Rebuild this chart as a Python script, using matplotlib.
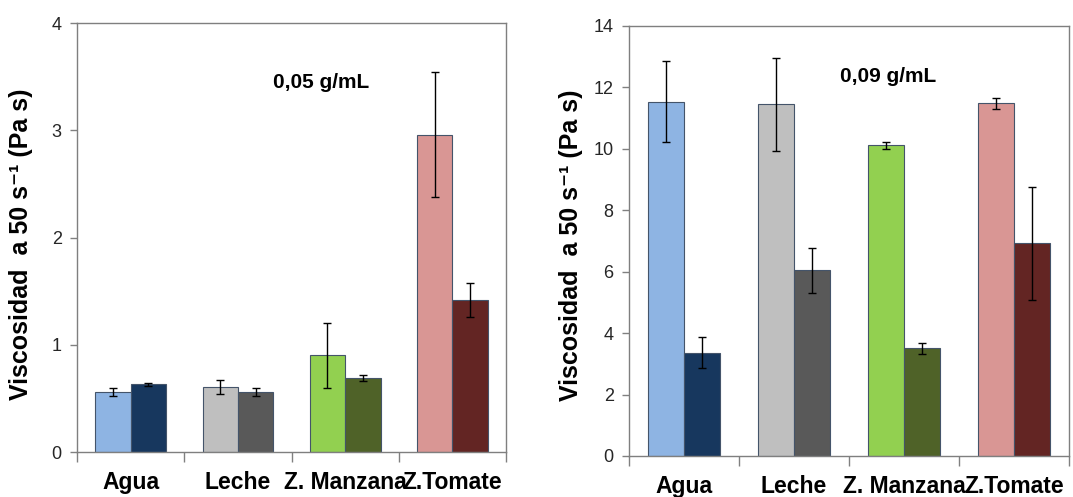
import matplotlib
matplotlib.use("Agg")
import matplotlib.pyplot as plt
import numpy as np

categories = ["Agua", "Leche", "Z. Manzana", "Z.Tomate"]

# panel 1: 0,05 g/mL
p1_light = [0.56, 0.61, 0.90, 2.96]
p1_light_err = [0.04, 0.065, 0.30, 0.58]
p1_dark = [0.63, 0.56, 0.69, 1.42]
p1_dark_err = [0.01, 0.04, 0.025, 0.16]

# panel 2: 0,09 g/mL
p2_light = [11.54, 11.45, 10.12, 11.49]
p2_light_err = [1.31, 1.52, 0.11, 0.18]
p2_dark = [3.36, 6.05, 3.50, 6.92]
p2_dark_err = [0.50, 0.73, 0.19, 1.83]

light_colors = ["#8EB4E3", "#BFBFBF", "#92D050", "#D99694"]
dark_colors = ["#17375E", "#595959", "#4F6228", "#632523"]

plt.rcParams['font.family'] = ['Liberation Sans', 'DejaVu Sans']

fig = plt.figure(figsize=(10.73, 4.97), dpi=100)
ax1 = fig.add_axes([0.0718, 0.0905, 0.3998, 0.8632])
ax2 = fig.add_axes([0.5862, 0.0825, 0.4100, 0.8652])

def draw(ax, light, lerr, dark, derr, ymax, step, note, note_xy):
    x = np.arange(len(categories))
    w = 0.33
    ax.bar(x - w/2, light, w, color=light_colors, edgecolor="#44546A", linewidth=0.8, zorder=2)
    ax.bar(x + w/2, dark, w, color=dark_colors, edgecolor="#44546A", linewidth=0.8, zorder=2)
    ax.errorbar(x - w/2, light, yerr=lerr, fmt="none", ecolor="black", elinewidth=1, capsize=3, capthick=1, zorder=3)
    ax.errorbar(x + w/2, dark, yerr=derr, fmt="none", ecolor="black", elinewidth=1, capsize=3, capthick=1, zorder=3)
    ax.set_xlim(-0.5, len(categories) - 0.5)
    ax.set_ylim(0, ymax)
    ticks = np.arange(0, ymax + 0.001, step)
    ax.set_yticks(ticks)
    ax.set_yticklabels([str(int(v)) for v in ticks], fontsize=13, color="#262626")
    ax.set_xticks(x)
    ax.set_xticklabels(categories, fontsize=16.5, fontweight="bold")
    ax.set_xticks(np.arange(-0.5, len(categories), 1), minor=True)
    ax.tick_params(axis="x", which="major", length=0, pad=14)
    ax.tick_params(axis="x", which="minor", length=7, color="#808080", width=1)
    ax.tick_params(axis="y", length=5, color="#808080", width=1, pad=6)
    for s in ax.spines.values():
        s.set_color("#7F7F7F")
        s.set_linewidth(1)
    ax.set_ylabel("Viscosidad  a 50 s\u207b\u00b9 (Pa s)", fontsize=18, fontweight="bold")
    ax.text(note_xy[0], note_xy[1], note, transform=ax.transAxes, ha="center", va="center",
            fontsize=15, fontweight="bold")

draw(ax1, p1_light, p1_light_err, p1_dark, p1_dark_err, 4, 1, "0,05 g/mL",
     ((321 - 77) / (506 - 77), (452 - 82) / (452 - 23)))
draw(ax2, p2_light, p2_light_err, p2_dark, p2_dark_err, 14, 2, "0,09 g/mL",
     ((888 - 629) / (1069 - 629), (456 - 77) / (456 - 26)))
ax1.yaxis.set_label_coords(-0.103, 0.485)
ax2.yaxis.set_label_coords(-0.105, 0.49)

fig.savefig("out.png", dpi=100)
